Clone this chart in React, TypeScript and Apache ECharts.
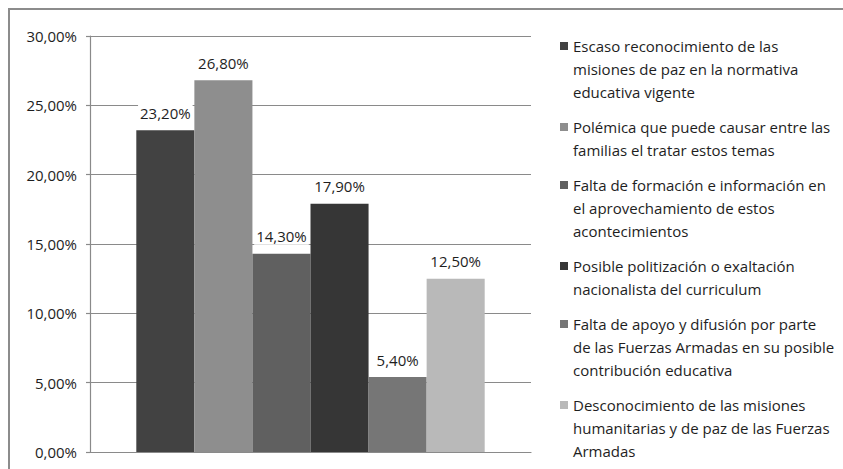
import React, { useEffect, useRef } from 'react';
import * as echarts from 'echarts';

const categories = [''];
const seriesNames = [
  'Escaso reconocimiento de las\nmisiones de paz en la normativa\neducativa vigente',
  'Polémica que puede causar entre las\nfamilias el tratar estos temas',
  'Falta de formación e información en\nel aprovechamiento de estos\nacontecimientos',
  'Posible politización o exaltación\nnacionalista del curriculum',
  'Falta de apoyo y difusión por parte\nde las Fuerzas Armadas en su posible\ncontribución educativa',
  'Desconocimiento de las misiones\nhumanitarias y de paz de las Fuerzas\nArmadas',
];
const seriesValues = [23.2, 26.8, 14.3, 17.9, 5.4, 12.5];
const seriesColors = ['#424242', '#8e8e8e', '#606060', '#363636', '#767676', '#b9b9b9'];
const yMin = 0;
const yMax = 30;
const yInterval = 5;

const FONT = '"Open Sans", "Noto Sans", sans-serif';
const LINE_H = 23;
const ITEM_GAP = 12;
const fmt = (v: number) => v.toFixed(2).replace('.', ',') + '%';

export default function App() {
  const ref = useRef<HTMLDivElement>(null);
  useEffect(() => {
    if (!ref.current) return;
    const chart = echarts.init(ref.current, undefined, { renderer: 'svg' });

    let top = 34.5;
    const legends = seriesNames.map((name, i) => {
      const lines = name.split('\n').length;
      const h = lines * LINE_H;
      const icon = `path://M0,0L0.01,0M0,7.5h8v8h-8zM0,${h}L0.01,${h}`;
      const lg = {
        show: true,
        orient: 'vertical',
        left: 560,
        top,
        padding: 0,
        itemWidth: 8,
        itemHeight: h,
        icon,
        selectedMode: false,
        data: [name],
        textStyle: { fontFamily: FONT, fontSize: 15, color: '#1e1e1e', lineHeight: LINE_H },
      };
      top += h + ITEM_GAP;
      return lg;
    });

    chart.setOption({
      animation: false,
      backgroundColor: '#fff',
      graphic: [
        {
          type: 'rect',
          shape: { x: 9, y: 9, width: 900, height: 500 },
          style: { fill: 'none', stroke: '#8c8c8c', lineWidth: 2 },
          silent: true,
        },
      ],
      grid: { left: 90, right: 312, top: 36, bottom: 17, containLabel: false },
      legend: legends,
      xAxis: {
        type: 'category',
        data: categories,
        axisLine: { show: true, lineStyle: { color: '#8a8a8a', width: 1.2 } },
        axisTick: { show: false },
        axisLabel: { show: false },
      },
      yAxis: {
        type: 'value',
        min: yMin,
        max: yMax,
        interval: yInterval,
        axisLine: { show: true, lineStyle: { color: '#8a8a8a', width: 1.2 } },
        axisTick: { show: true, length: 4, lineStyle: { color: '#8a8a8a', width: 1.2 } },
        splitLine: { show: true, lineStyle: { color: '#8a8a8a', width: 1.2 } },
        axisLabel: {
          formatter: (v: number) => fmt(v),
          fontFamily: FONT,
          fontSize: 15,
          color: '#1e1e1e',
          margin: 13,
        },
      },
      series: seriesNames.map((name, i) => ({
        type: 'bar',
        name,
        data: [seriesValues[i]],
        barGap: '0%',
        barCategoryGap: '21%',
        itemStyle: { color: seriesColors[i] },
        label: {
          show: true,
          position: 'top',
          distance: 9,
          formatter: (p: any) => fmt(p.value),
          fontFamily: FONT,
          fontSize: 15,
          color: '#1e1e1e',
          backgroundColor: '#fff',
          padding: [1, 2],
        },
      })),
    });
    return () => chart.dispose();
  }, []);
  return (
    <div
      ref={ref}
      style={{ position: 'fixed', left: 0, top: 0, width: 843, height: 469 }}
    />
  );
}
